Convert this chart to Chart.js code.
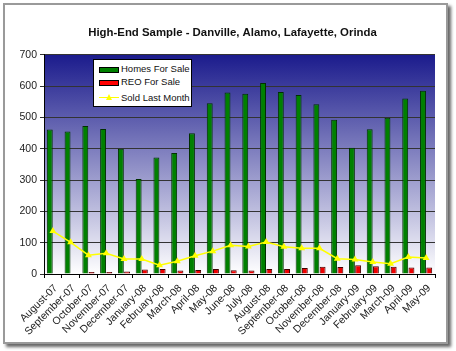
<!DOCTYPE html>
<html>
<head>
<meta charset="utf-8">
<script src="https://cdn.jsdelivr.net/npm/chart.js@4.4.1/dist/chart.umd.min.js"></script>
<style>
  html, body { margin: 0; padding: 0; background: #fff; }
  body { width: 456px; height: 351px; position: relative; overflow: hidden; font-family: "Liberation Sans", Arial, sans-serif; }
  #frame { position: absolute; left: 3px; top: 3px; width: 441px; height: 337px; border: 2px solid #9a9a9a; box-shadow: 3px 3px 3px #666; background: #fff; }
  #salesChart { position: absolute; left: 0; top: 0; }
  #legend { position: absolute; left: 93px; top: 59px; width: 97px; height: 46px; border: 1px solid #000; background: #fff; font-size: 9.5px; color: #111; }
  .row { position: absolute; left: 0; height: 12px; line-height: 12px; white-space: nowrap; }
  .row span.txt { position: absolute; left: 27px; top: 0; }
  .box { position: absolute; left: 5px; top: 4px; width: 18px; height: 4px; border: 1px solid #000; }
  .ln { position: absolute; left: 5px; top: 5px; width: 20px; height: 1px; background: #ffff00; }
  .tri { position: absolute; left: 12px; top: 2px; width: 0; height: 0; border-left: 3px solid transparent; border-right: 3px solid transparent; border-bottom: 6px solid #ffff00; }
</style>
</head>
<body>
<div id="frame"></div>
<canvas id="salesChart" width="456" height="351"></canvas>
<div id="legend">
  <div class="row" style="top:3px"><div class="box" style="background:#008000"></div><span class="txt">Homes For Sale</span></div>
  <div class="row" style="top:16px"><div class="box" style="background:#ff0000"></div><span class="txt">REO For Sale</span></div>
  <div class="row" style="top:32px"><div class="ln"></div><div class="tri"></div><span class="txt">Sold Last Month</span></div>
</div>
<script>
// High-End Sample: homes for sale, REO and monthly sales (Aug-07 .. May-09)
const months = ['August-07', 'September-07', 'October-07', 'November-07', 'December-07',
    'January-08', 'February-08', 'March-08', 'April-08', 'May-08', 'June-08', 'July-08',
    'August-08', 'September-08', 'October-08', 'November-08', 'December-08',
    'January-09', 'February-09', 'March-09', 'April-09', 'May-09'];

const homesForSale = [461, 455, 472, 463, 400, 303, 372, 386, 449, 545, 579, 575,
    610, 581, 571, 542, 492, 403, 462, 499, 560, 585];

const reoForSale = [0, 0, 6, 6, 8, 14, 16, 11, 13, 16, 12, 11,
    16, 16, 19, 23, 22, 28, 25, 23, 21, 21];

const soldLastMonth = [137, 101, 60, 66, 48, 48, 28, 41, 58, 73, 92, 88,
    102, 87, 82, 82, 49, 46, 38, 33, 54, 51];

const yTicks = [0, 100, 200, 300, 400, 500, 600, 700];

(function () {
    const font = "'Liberation Sans', Arial, sans-serif";

    // navy-to-white fill behind the plot area
    const plotBackground = {
        id: 'plotBackground',
        afterLayout(chart) {
            // title sits a little right of the canvas centre, as in the original
            if (chart.titleBlock) chart.titleBlock.left += 20;
        },
        beforeDraw(chart) {
            const a = chart.chartArea;
            const c = chart.ctx;
            const g = c.createLinearGradient(0, a.top, 0, a.bottom);
            g.addColorStop(0, '#1b1b8c');
            g.addColorStop(1, '#ffffff');
            c.save();
            c.fillStyle = g;
            c.fillRect(a.left, a.top, a.right - a.left, a.bottom - a.top);
            c.restore();
        }
    };

    new Chart(document.getElementById('salesChart'), {
        type: 'bar',
        data: {
            labels: months,
            datasets: [
                {
                    type: 'line',
                    label: 'Sold Last Month',
                    data: soldLastMonth,
                    borderColor: '#ffff00',
                    backgroundColor: '#ffff00',
                    borderWidth: 1.5,
                    pointStyle: 'triangle',
                    pointRadius: 4,
                    pointBorderWidth: 0,
                    tension: 0,
                    order: 0
                },
                {
                    label: 'Homes For Sale',
                    data: homesForSale,
                    backgroundColor: '#008000',
                    borderColor: '#003000',
                    borderWidth: 1,
                    borderSkipped: 'bottom',
                    categoryPercentage: 0.7,
                    barPercentage: 0.95,
                    order: 1
                },
                {
                    label: 'REO For Sale',
                    data: reoForSale,
                    backgroundColor: '#ee0000',
                    borderColor: '#400000',
                    borderWidth: 1,
                    borderSkipped: 'bottom',
                    categoryPercentage: 0.7,
                    barPercentage: 0.95,
                    order: 2
                }
            ]
        },
        options: {
            responsive: false,
            animation: false,
            layout: { padding: { left: 10, right: 21, top: 0, bottom: 0 } },
            plugins: {
                legend: { display: false },
                tooltip: { enabled: false },
                title: {
                    display: true,
                    text: 'High-End Sample - Danville, Alamo, Lafayette, Orinda',
                    color: '#111',
                    font: { family: font, size: 11.4, weight: 'bold' },
                    padding: { top: 26, bottom: 15 }
                }
            },
            scales: {
                x: {
                    offset: true,
                    grid: { display: true, drawOnChartArea: false, offset: true, tickLength: 4, color: '#000' },
                    border: { display: true, color: '#000' },
                    ticks: {
                        autoSkip: false,
                        minRotation: 45,
                        maxRotation: 45,
                        padding: 4,
                        labelOffset: 3,
                        color: '#222',
                        font: { family: font, size: 10.5 }
                    },
                    afterFit(scale) {
                        scale.height = 77;
                        scale.paddingLeft = 0;
                        scale.paddingRight = 0;
                    }
                },
                y: {
                    min: 0,
                    max: 700,
                    afterBuildTicks(scale) {
                        scale.ticks = yTicks.map(v => ({ value: v }));
                    },
                    grid: { color: '#333', tickLength: 4, lineWidth: 1 },
                    border: { display: true, color: '#000' },
                    ticks: {
                        padding: 3,
                        color: '#222',
                        font: { family: font, size: 10.5 }
                    },
                    afterFit(scale) {
                        scale.width = 34;
                    }
                }
            }
        },
        plugins: [plotBackground]
    });
})();
</script>
</body>
</html>
